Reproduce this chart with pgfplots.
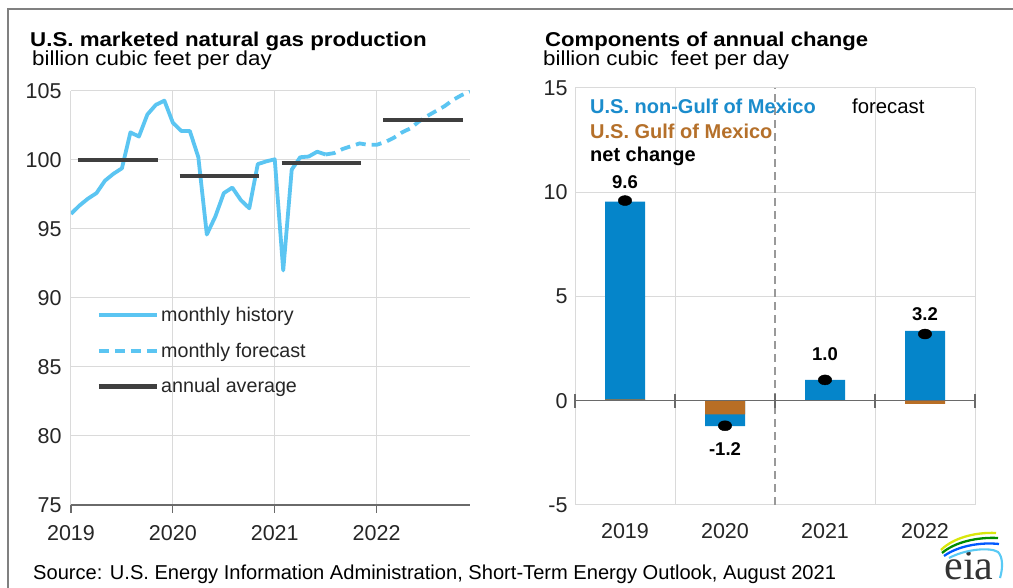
\documentclass[border=0pt]{standalone}
\usepackage{pgfplots}
\pgfplotsset{compat=1.18}
\usepackage{fontspec}
\setmainfont{Liberation Sans}
\newfontfamily\seriffont{Liberation Serif}
\definecolor{histblue}{HTML}{5BC5F2}
\definecolor{avggray}{HTML}{3F3F3F}
\definecolor{barblue}{HTML}{0585CA}
\definecolor{barbrown}{HTML}{B86E25}
\definecolor{gridgray}{HTML}{DADADA}
\definecolor{axisgray}{HTML}{6A6A6A}
\definecolor{legblue}{HTML}{1B8CCC}
\definecolor{legbrown}{HTML}{B5702A}
\begin{document}
\begin{tikzpicture}[x=1pt,y=1pt]
\useasboundingbox (0,0) rectangle (1013,588);
\fill[white] (0,0) rectangle (1013,588);
\draw[gray, line width=1.2pt] (8,0) -- (8,579) -- (1013,579);
% titles
\node[anchor=base west, inner sep=0pt, font=\fontsize{20}{24}\selectfont\bfseries] at (30,541) {\scalebox{1.115}[1]{U.S. marketed natural gas production}};
\node[anchor=base west, inner sep=0pt, font=\fontsize{20.3}{24}\selectfont] at (32,522) {\scalebox{1.1}[1]{billion cubic feet per day}};
\node[anchor=base west, inner sep=0pt, font=\fontsize{20}{24}\selectfont\bfseries] at (545,541) {\scalebox{1.105}[1]{Components of annual change}};
\node[anchor=base west, inner sep=0pt, font=\fontsize{20.3}{24}\selectfont] at (543,522) {\scalebox{1.1}[1]{billion cubic\ \ feet per day}};
\node[anchor=base west, inner sep=0pt, font=\fontsize{20.1}{23}\selectfont] at (33,8) {Source: U.S. Energy Information Administration, Short-Term Energy Outlook, August 2021};
% eia logo
\node[anchor=base, inner sep=0pt, font=\seriffont\fontsize{42}{46}\selectfont, text=black!80] at (969,8) {eia};
\draw[line width=2.3pt, color=yellow!85!green] (941,38) .. controls (953,50) and (975,56) .. (996,55);
\draw[line width=2.3pt, color=green!55!black] (942,35) .. controls (955,46) and (977,51) .. (998,50);
\draw[line width=2.3pt, color=blue!65!cyan] (944,32) .. controls (958,42) and (980,46) .. (999,44);
\draw[line width=2.1pt, color=cyan!65] (949,30) .. controls (966,39) and (990,41) .. (998,36) .. controls (1003,31) and (1003,20) .. (1000,10);

% ---------------- left chart ----------------
\begin{axis}[
  at={(71pt,83pt)}, anchor=south west, scale only axis,
  width=399pt, height=414pt,
  xmin=0, xmax=47, ymin=75, ymax=105,
  xtick={0,12,24,36}, xticklabels={2019,2020,2021,2022},
  ytick={75,80,85,90,95,100,105}, yticklabels={75,80,85,90,95,100,105},
  grid=major, major grid style={gridgray, line width=1pt},
  axis lines*=left,
  y axis line style={draw=none},
  x axis line style={draw=axisgray, line width=1.2pt},
  ytick style={draw=none},
  xtick style={draw=axisgray, line width=1.2pt},
  tick align=outside, major tick length=8pt,
  tick label style={font=\fontsize{21.5}{24}\selectfont, text=black!85},
  yticklabel style={xshift=2pt},
  xticklabel style={yshift=-9pt},
  unbounded coords=jump,
  legend style={at={(axis cs:3.0,89.5)}, anchor=north west, draw=none, fill=none,
    inner sep=0pt, row sep=16pt, font=\fontsize{19.7}{22}\selectfont, text=black!85,
    cells={anchor=west}, /tikz/every even column/.append style={column sep=3.5pt}},
  legend image code/.code={\draw[#1] (0pt,0pt) -- (58pt,0pt);},
]
\addplot[histblue, line width=3.8pt, line join=round] coordinates {
(0,96.1)(1,96.7)(2,97.2)(3,97.6)(4,98.5)(5,99.0)(6,99.4)(7,102.0)(8,101.7)(9,103.3)
(10,104.0)(11,104.3)(12,102.7)(13,102.1)(14,102.1)(15,100.2)(16,94.6)(17,95.9)(18,97.6)(19,98.0)
(20,97.1)(21,96.5)(22,99.7)(23,99.9)(24,100.05)(25,92.0)(26,99.3)(27,100.2)(28,100.25)(29,100.6)
(30,100.4)};
\addlegendentry{monthly history}
\addplot[histblue, line width=3.8pt, dash pattern=on 10pt off 6pt] coordinates {
(30,100.4)(31,100.5)(32,100.8)(33,101.0)(34,101.2)(35,101.1)(36,101.1)(37,101.3)(38,101.6)(39,102.0)
(40,102.3)(41,102.8)(42,103.2)(43,103.55)(44,103.9)(45,104.35)(46,104.7)(47,104.95)};
\addlegendentry{monthly forecast}
\addplot[avggray, line width=4.5pt] coordinates {
(0.8,100.0)(10.2,100.0)(11,nan)
(12.8,98.85)(22.2,98.85)(23,nan)
(24.8,99.8)(34.2,99.8)(35,nan)
(36.8,102.9)(46.2,102.9)};
\addlegendentry{annual average}
\end{axis}

% ---------------- right chart ----------------
\begin{axis}[
  at={(575pt,83pt)}, anchor=south west, scale only axis,
  width=400pt, height=417pt,
  xmin=-0.5, xmax=3.5, ymin=-5, ymax=15,
  xtick={0,1,2,3}, xticklabels={2019,2020,2021,2022},
  extra x ticks={-0.5,0.5,2.5,3.5}, extra x tick labels={},
  extra x tick style={grid=major, major grid style={gridgray, line width=1pt}},
  ytick={-5,0,5,10,15}, yticklabels={-5,0,5,10,15},
  ymajorgrids, major grid style={gridgray, line width=1pt},
  axis line style={draw=none}, tick style={draw=none},
  tick label style={font=\fontsize{21.5}{24}\selectfont, text=black!85},
  yticklabel style={xshift=-4pt},
  xticklabel style={yshift=-15pt},
  clip=false,
]
\draw[color=black!40, line width=1.3pt, dash pattern=on 8pt off 5pt] (axis cs:1.5,-5) -- (axis cs:1.5,15);
\addplot[ybar, bar width=40pt, bar shift=0pt, fill=barblue, draw=none] coordinates {(0,9.55)(1,-1.22)(2,1.0)(3,3.35)};
\addplot[ybar, bar width=40pt, bar shift=0pt, fill=barbrown, draw=none] coordinates {(0,0.06)(1,-0.65)(2,0.0)(3,-0.15)};
\draw[axisgray, line width=1.2pt] (axis cs:-0.5,0) -- (axis cs:3.5,0);
\draw[axisgray, line width=1.2pt] ([yshift=-7pt]axis cs:-0.5,0) -- ([yshift=7pt]axis cs:-0.5,0);
\draw[axisgray, line width=1.2pt] ([yshift=-7pt]axis cs:0.5,0) -- ([yshift=7pt]axis cs:0.5,0);
\draw[axisgray, line width=1.2pt] ([yshift=-7pt]axis cs:1.5,0) -- ([yshift=7pt]axis cs:1.5,0);
\draw[axisgray, line width=1.2pt] ([yshift=-7pt]axis cs:2.5,0) -- ([yshift=7pt]axis cs:2.5,0);
\draw[axisgray, line width=1.2pt] ([yshift=-7pt]axis cs:3.5,0) -- ([yshift=7pt]axis cs:3.5,0);
\addplot[only marks, mark=*, mark size=5pt, mark options={xscale=1.35, fill=black, draw=black}] coordinates {(0,9.6)(1,-1.2)(2,1.0)(3,3.2)};
\node[font=\fontsize{18.5}{21}\selectfont\bfseries] at (axis cs:0,10.5) {9.6};
\node[font=\fontsize{18.5}{21}\selectfont\bfseries] at (axis cs:1,-2.3) {-1.2};
\node[font=\fontsize{18.5}{21}\selectfont\bfseries] at (axis cs:2,2.25) {1.0};
\node[font=\fontsize{18.5}{21}\selectfont\bfseries] at (axis cs:3,4.17) {3.2};
\end{axis}
\node[anchor=base west, inner sep=0pt, font=\fontsize{20}{23}\selectfont\bfseries, text=legblue] at (590,474) {U.S. non-Gulf of Mexico};
\node[anchor=base west, inner sep=0pt, font=\fontsize{20}{23}\selectfont\bfseries, text=legbrown] at (590,449) {U.S. Gulf of Mexico};
\node[anchor=base west, inner sep=0pt, font=\fontsize{20}{23}\selectfont\bfseries] at (590,426) {net change};
\node[anchor=base west, inner sep=0pt, font=\fontsize{20.3}{23}\selectfont] at (852,474) {forecast};
\end{tikzpicture}
\end{document}
